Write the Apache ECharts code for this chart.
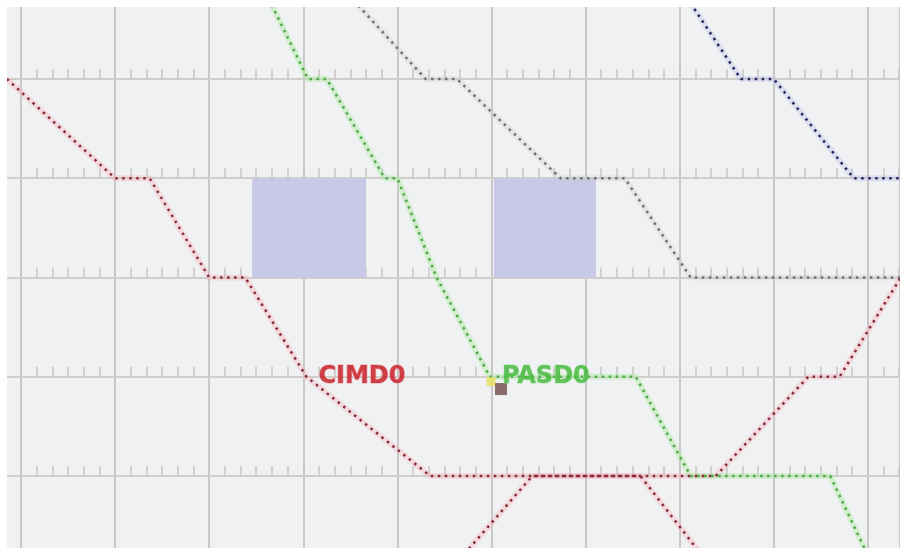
<!DOCTYPE html>
<html>
<head>
<meta charset="utf-8">
<title>Train graph</title>
<script src="https://cdn.jsdelivr.net/npm/echarts@6/dist/echarts.min.js"></script>
<style>
  html, body { margin: 0; padding: 0; background: #ffffff; }
  #chart { width: 900px; height: 548px; }
</style>
</head>
<body>
<div id="chart"></div>
<script>
// Time runs along x (one unit = one minor tick, six per major division),
// stations sit on the horizontal tracks at y = 1..5.
const stationTracks = [1, 2, 3, 4, 5];

// Train paths: [time, station position]
const redTrainA = [[5.1, 5], [12, 4], [14.2, 4], [18, 3], [20.3, 3], [24.2, 2], [32.1, 1], [45.5, 1], [50.4, 0]];
const redTrainB = [[33.1, 0], [38.6, 1], [50.3, 1], [56.2, 2], [58.2, 2], [62.1, 3]];
const greenTrain = [[21.2, 6], [24.3, 5], [25.5, 5], [29.2, 4], [30, 4], [32.5, 3], [35.9, 2], [45.2, 2], [48.7, 1], [57.6, 1], [60.6, 0]];
const grayTrain = [[26.0, 6], [31.8, 5], [33.8, 5], [40.4, 4], [44.5, 4], [48.7, 3], [62.1, 3]];
const navyTrain = [[47.7, 6], [51.9, 5], [54.0, 5], [59.1, 4], [62.1, 4]];

// Blocked intervals: [startTime, endTime, fromStation, toStation]
const blockedWindows = [[20.73, 28.0, 3, 4], [36.16, 42.66, 3, 4]];

// Train names placed at a point of their path
const trainLabels = [
  { name: 'CIMD0', at: [24.2, 2], color: '#c8141c', halo: 'rgba(235,120,130,0.55)' },
  { name: 'PASD0', at: [35.9, 2], color: '#3fb836', halo: 'rgba(150,225,140,0.55)' }
];

// Signal marker near station 2
const signalYellow = [[35.97, 1.95]];
const signalBox = [[36.61, 1.876]];

const X_MAX = 62.05;
const Y_MAX = 5.725;
const PLOT_LEFT = -73.1;   // so the first major line lands at x = 6
const PLOT_BOTTOM = -27.25;

const chart = echarts.init(document.getElementById('chart'), null, { renderer: 'canvas' });

const grids = [
  // background panel
  { left: 7, top: 7, right: 0, bottom: 0, show: true, backgroundColor: '#eff1f2', borderWidth: 0 },
  // main plotting grid, allowed to reach past the canvas edges
  { left: PLOT_LEFT, top: 7, right: 0, bottom: PLOT_BOTTOM, show: false, outerBoundsMode: 'none' }
];
const xAxes = [
  { gridIndex: 0, show: false, min: 0, max: 1 },
  {
    gridIndex: 1, type: 'value', min: 0, max: X_MAX, interval: 6,
    axisLine: { show: false }, axisTick: { show: false }, axisLabel: { show: false },
    splitLine: { show: true, lineStyle: { color: '#c9c8c8', width: 2 } }
  }
];
const yAxes = [
  { gridIndex: 0, show: false, min: 0, max: 1 },
  { gridIndex: 1, type: 'value', min: 0, max: Y_MAX, show: false, splitLine: { show: false } }
];

// Each station track is drawn as an axis line with upward minute ticks
const pxPerY = (548 - 7 - PLOT_BOTTOM) / Y_MAX;
stationTracks.forEach(function (s) {
  const gi = grids.length;
  const yPx = 7 + (Y_MAX - s) * pxPerY;
  grids.push({ left: PLOT_LEFT, top: 7, right: 0, bottom: 548 - yPx, show: false, outerBoundsMode: 'none' });
  xAxes.push({
    gridIndex: gi, type: 'value', min: 0, max: X_MAX, interval: 6,
    axisLine: { show: true, lineStyle: { color: '#d0cdca', width: 2 } },
    axisTick: { show: true, inside: true, length: 10, lineStyle: { color: '#c9c6c5', width: 1.5 } },
    minorTick: { show: true, splitNumber: 6, length: 10, lineStyle: { color: '#c9c6c5', width: 1.5 } },
    axisLabel: { show: false },
    splitLine: { show: false }
  });
  yAxes.push({ gridIndex: gi, show: false, min: 0, max: 1 });
});

function trainSeries(data, dotColor, haloColor) {
  return [
    {
      type: 'line', xAxisIndex: 1, yAxisIndex: 1, data: data,
      showSymbol: false, symbol: 'none', silent: true, z: 3,
      lineStyle: { color: haloColor, width: 6 }
    },
    {
      type: 'line', xAxisIndex: 1, yAxisIndex: 1, data: data,
      showSymbol: false, symbol: 'none', silent: true, z: 4,
      lineStyle: { color: dotColor, width: 2.5, type: [2.5, 4.5], cap: 'butt' }
    }
  ];
}

const series = [
  {
    type: 'line', xAxisIndex: 1, yAxisIndex: 1, data: [], z: 2, silent: true,
    markArea: {
      silent: true,
      itemStyle: { color: '#c8c8e7', opacity: 1 },
      data: blockedWindows.map(function (w) {
        return [{ xAxis: w[0], yAxis: w[2] }, { xAxis: w[1], yAxis: w[3] }];
      })
    }
  }
]
  .concat(trainSeries(redTrainA, '#862c3a', 'rgba(250,175,185,0.35)'))
  .concat(trainSeries(redTrainB, '#862c3a', 'rgba(250,175,185,0.35)'))
  .concat(trainSeries(greenTrain, '#4fa84a', 'rgba(175,235,165,0.45)'))
  .concat(trainSeries(grayTrain, '#707070', 'rgba(200,200,200,0.25)'))
  .concat(trainSeries(navyTrain, '#27275e', 'rgba(190,190,235,0.35)'))
  .concat([
    {
      type: 'scatter', xAxisIndex: 1, yAxisIndex: 1, data: signalYellow, z: 5, silent: true,
      symbol: 'rect', symbolSize: 9, itemStyle: { color: '#e8e05a' }
    },
    {
      type: 'scatter', xAxisIndex: 1, yAxisIndex: 1, data: signalBox, z: 6, silent: true,
      symbol: 'rect', symbolSize: 12, itemStyle: { color: '#6f4a46' }
    }
  ])
  .concat(trainLabels.map(function (t) {
    return {
      type: 'scatter', xAxisIndex: 1, yAxisIndex: 1, z: 7, silent: true,
      symbolSize: 0, data: [t.at],
      label: {
        show: true, position: 'right', distance: 12, formatter: t.name,
        color: t.color, fontFamily: 'DejaVu Sans', fontWeight: 'bold', fontSize: 24,
        textBorderColor: t.halo, textBorderWidth: 1.5
      }
    };
  }));

chart.setOption({
  animation: false,
  backgroundColor: '#ffffff',
  grid: grids,
  xAxis: xAxes,
  yAxis: yAxes,
  series: series,
  graphic: [
    { type: 'rect', left: 0, top: 0, shape: { width: 7, height: 548 }, style: { fill: '#ffffff' }, z: 100 },
    { type: 'rect', left: 0, top: 0, shape: { width: 900, height: 7 }, style: { fill: '#ffffff' }, z: 100 }
  ]
});
</script>
</body>
</html>
